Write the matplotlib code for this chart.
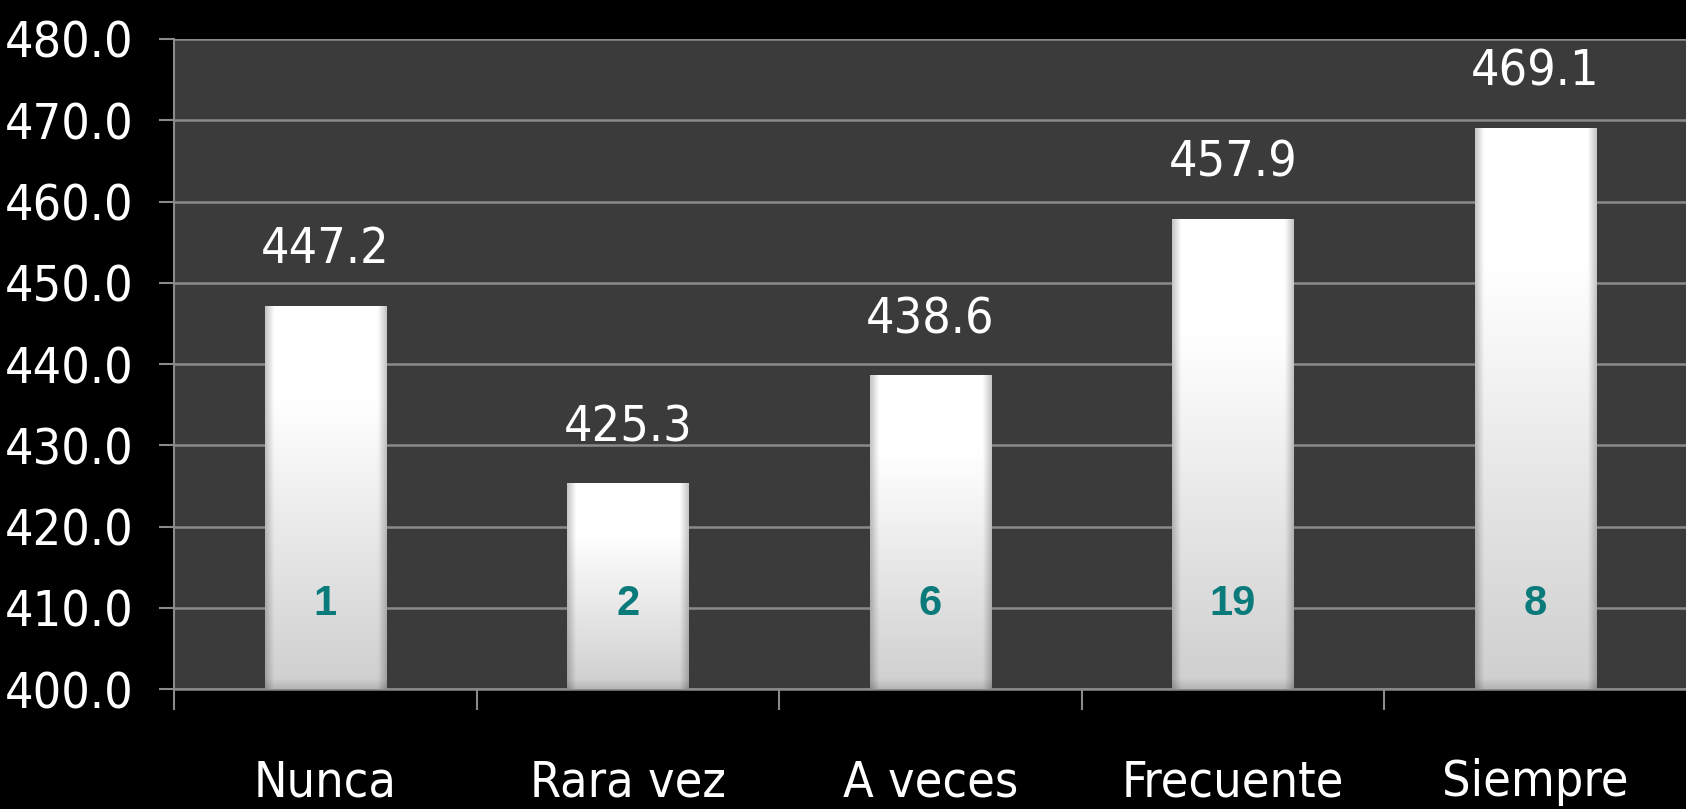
import numpy as np
import matplotlib
matplotlib.use("Agg")
import matplotlib.pyplot as plt

# datos del grafico
categorias = ["Nunca", "Rara vez", "A veces", "Frecuente", "Siempre"]
puntajes = [447.2, 425.3, 438.6, 457.9, 469.1]
conteos = ["1", "2", "6", "19", "8"]
marcas_y = [400, 410, 420, 430, 440, 450, 460, 470, 480]

plt.rcParams["font.family"] = ["DejaVu Sans"]
plt.rcParams["font.stretch"] = "condensed"

fig = plt.figure(figsize=(16.86, 8.09), dpi=100, facecolor="black")
ax = fig.add_axes([0.1032, 0.1483, 0.899, 0.8035])
ax.set_facecolor("#3b3b3b")

x = np.arange(len(categorias))
ancho = 0.4
barras = ax.bar(x, [p - 400 for p in puntajes], bottom=400, width=ancho,
                color="none", edgecolor="none", zorder=3)

# relleno con degradado y bisel para cada barra
filas, cols = 300, 80
v = np.linspace(0, 1, filas)[:, None]          # 0 arriba, 1 abajo
u = np.linspace(0, 1, cols)[None, :]
base = 1.0 - 0.19 * np.clip((v - 0.25) / 0.75, 0, 1)
lado = np.minimum(u, 1 - u)
bisel = 1.0 - 0.22 * np.clip(1 - lado / 0.07, 0, 1)
for barra in barras:
    alto_px = barra.get_height() * 8.125
    fondo = 1.0 - 0.12 * np.clip(1 - (1 - v) * alto_px / 10, 0, 1)
    gris = np.clip(base * bisel * fondo, 0, 1)
    img = np.dstack([gris, gris, gris])
    x0 = barra.get_x()
    im = ax.imshow(img, extent=[x0, x0 + ancho, 400, 400 + barra.get_height()],
                   aspect="auto", zorder=3, interpolation="bilinear")
    im.set_clip_path(barra)

for xi, p, c in zip(x, puntajes, conteos):
    ax.text(xi, p + 6.9, f"{p:.1f}", ha="center", va="center",
            color="white", fontsize=36, zorder=4)
    ax.text(xi, 410.5, c, ha="center", va="center", color="#0b7a7a",
            fontsize=30, fontweight="bold", family=["Liberation Sans", "DejaVu Sans"],
            zorder=4)

ax.set_ylim(400, 480)
ax.set_xlim(-0.5, 4.51)
ax.set_yticks(marcas_y)
ax.set_yticklabels([f"{m:.1f}" for m in marcas_y])
ax.yaxis.grid(True, color="#8a8a8a", linewidth=1.8, zorder=1)
ax.set_axisbelow(True)

ax.set_xticks(x)
ax.set_xticklabels(categorias)
ax.set_xticks(np.arange(-0.5, 4.5, 1), minor=True)
ax.tick_params(axis="x", which="major", length=0, pad=50, labelsize=36, colors="white")
ax.tick_params(axis="x", which="minor", length=15, width=1.5, color="#8a8a8a", direction="out")
ax.tick_params(axis="y", length=11, width=1.5, color="#8a8a8a", pad=18,
               labelsize=36, labelcolor="white")

for s in ["top", "right"]:
    ax.spines[s].set_visible(False)
ax.spines["left"].set_color("#8a8a8a")
ax.spines["left"].set_linewidth(1.5)
ax.spines["bottom"].set_color("#8a8a8a")
ax.spines["bottom"].set_linewidth(1.8)

fig.savefig("out.png", dpi=100, facecolor="black")
